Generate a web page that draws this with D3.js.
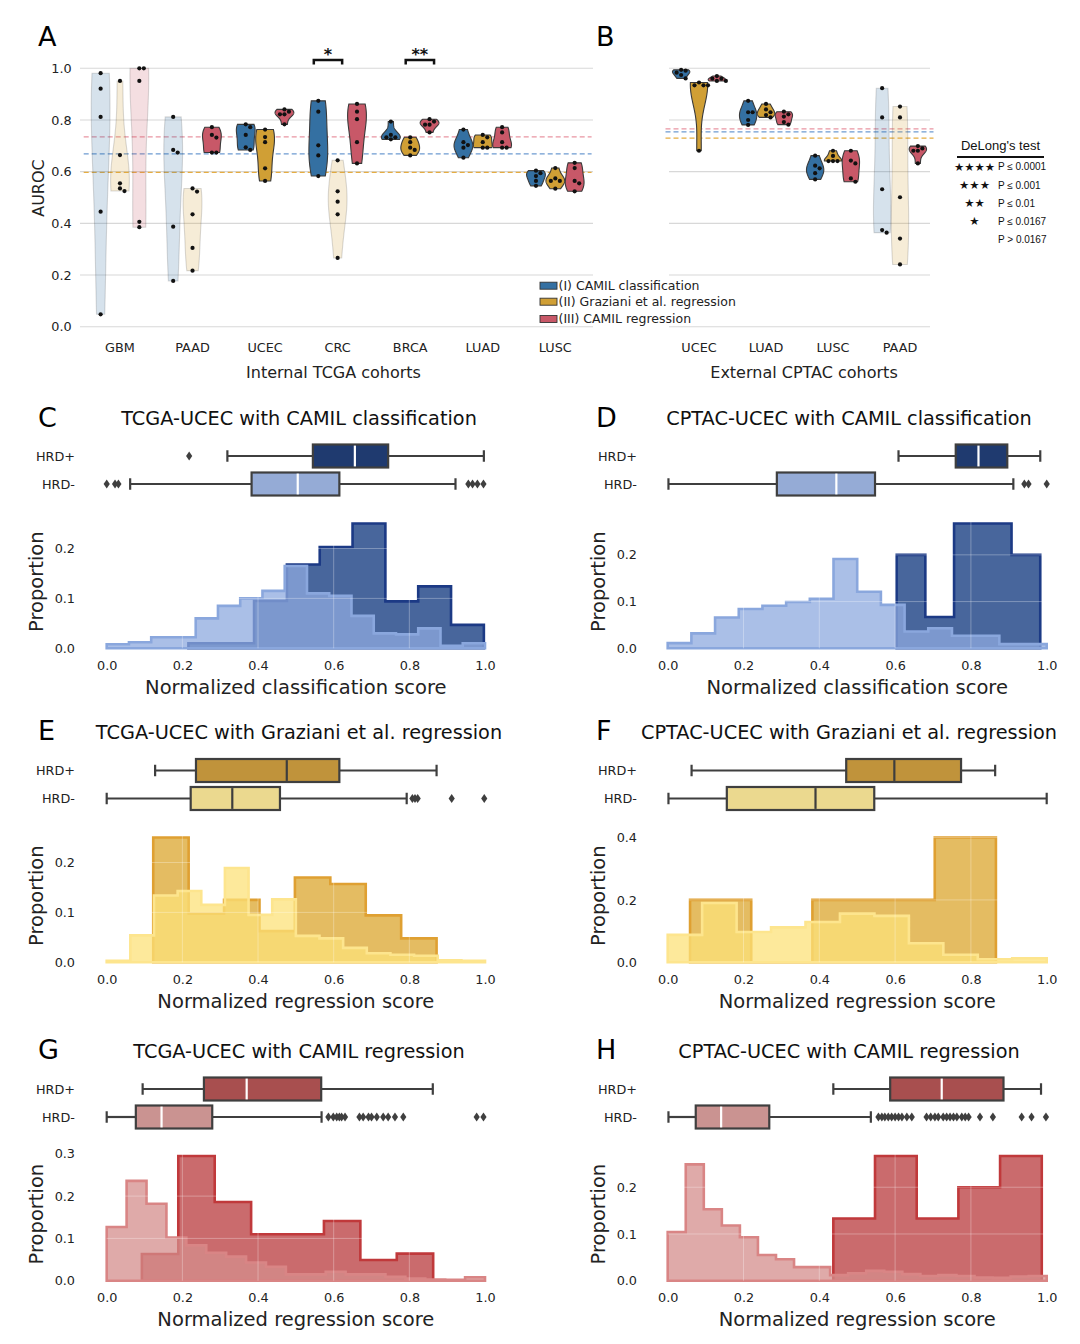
<!DOCTYPE html>
<html><head><meta charset="utf-8">
<script src="https://cdn.jsdelivr.net/npm/d3@7/dist/d3.min.js"></script>
<style>
body{margin:0;background:#fff;}
svg{display:block;}
</style></head>
<body>
<svg id="fig" width="1080" height="1344" xmlns="http://www.w3.org/2000/svg"></svg>
<script>
// ================= DATA: panels A & B (AUROC of 5 folds) =================
const internalCohorts = ["GBM","PAAD","UCEC","CRC","BRCA","LUAD","LUSC"];
const externalCohorts = ["UCEC","LUAD","LUSC","PAAD"];
const methodNames = ["(I) CAMIL classification","(II) Graziani et al. regression","(III) CAMIL regression"];
const methodColors = ["#3470a2","#d09f35","#c85868"];
const meanLineColors = ["#6e9bd1","#e6ad42","#e995a2"];

const internalCamilCls = [
  [0.981,0.921,0.812,0.445,0.048],
  [0.812,0.684,0.674,0.387,0.177],
  [0.783,0.772,0.742,0.694,0.684],
  [0.874,0.832,0.702,0.663,0.583],
  [0.794,0.742,0.733,0.733,0.725],
  [0.763,0.714,0.703,0.693,0.654],
  [0.604,0.594,0.583,0.564,0.545]
];
const internalGraziani = [
  [0.951,0.664,0.555,0.535,0.525],
  [0.535,0.523,0.435,0.305,0.217],
  [0.763,0.734,0.714,0.613,0.564],
  [0.644,0.524,0.484,0.435,0.266],
  [0.733,0.714,0.693,0.684,0.663],
  [0.742,0.733,0.714,0.693,0.693],
  [0.614,0.574,0.564,0.564,0.534]
];
const internalCamilReg = [
  [1.0,1.0,0.951,0.406,0.385],
  [0.772,0.742,0.732,0.674,0.674],
  [0.841,0.832,0.822,0.822,0.783],
  [0.862,0.832,0.803,0.714,0.632],
  [0.803,0.794,0.782,0.782,0.752],
  [0.772,0.752,0.714,0.693,0.693],
  [0.634,0.614,0.564,0.555,0.524]
];
const externalCamilCls = [
  [0.994,0.991,0.983,0.974,0.961],
  [0.874,0.830,0.830,0.800,0.781],
  [0.662,0.623,0.613,0.594,0.570],
  [0.923,0.810,0.532,0.374,0.364]
];
const externalGraziani = [
  [0.945,0.934,0.934,0.934,0.681],
  [0.862,0.841,0.830,0.819,0.810],
  [0.681,0.661,0.641,0.641,0.641],
  [0.852,0.810,0.501,0.341,0.241]
];
const externalCamilReg = [
  [0.970,0.960,0.960,0.951,0.951],
  [0.832,0.822,0.813,0.792,0.782],
  [0.681,0.643,0.632,0.574,0.561],
  [0.699,0.690,0.681,0.681,0.632]
];
// 1 = not significant (drawn faint)
const internalFaint = [[1,1,1],[1,1,0],[0,0,0],[0,1,0],[0,0,0],[0,0,0],[0,0,0]];
const externalFaint = [[0,0,0],[0,0,0],[0,0,0],[1,1,0]];
const sigBrackets = [{cohort:"CRC", from:0, to:1, label:"*"},{cohort:"BRCA", from:1, to:2, label:"**"}];
const aurocTicks = [0,0.2,0.4,0.6,0.8,1.0];
const delongStars = ["★★★★","★★★","★★","★",""];
const delongLabels = ["P ≤ 0.0001","P ≤ 0.001","P ≤ 0.01","P ≤ 0.0167","P > 0.0167"];

// ================= DATA: panels C–H =================
const groupLabels = ["HRD+","HRD-"];
const scoreTicks = [0,0.2,0.4,0.6,0.8,1.0];
// box stats: [lower whisker, Q1, median, Q3, upper whisker]
// C: TCGA-UCEC CAMIL classification
const cPosRange = [0.216,0.997];
const cPosProps = [0.01,0.01,0.095,0.168,0.203,0.25,0.094,0.124,0.047];
const cNegRange = [0,1];
const cNegProps = [0.008,0.012,0.022,0.022,0.06,0.085,0.10,0.115,0.165,0.11,0.105,0.065,0.03,0.028,0.04,0.005,0.01];
const cPosBox = [0.319,0.545,0.656,0.744,0.997];
const cPosOut = [0.218];
const cNegBox = [0.062,0.383,0.505,0.615,0.922];
const cNegOut = [0.0,0.022,0.031,0.956,0.967,0.98,0.996];
// D: CPTAC-UCEC CAMIL classification
const dPosRange = [0.604,0.983];
const dPosProps = [0.2,0.067,0.267,0.267,0.2];
const dNegRange = [0,1];
const dNegProps = [0.011,0.032,0.066,0.084,0.091,0.099,0.106,0.191,0.121,0.093,0.036,0.043,0.027,0.027,0.009,0.009];
const dPosBox = [0.609,0.760,0.820,0.896,0.983];
const dPosOut = [];
const dNegBox = [0.002,0.288,0.445,0.547,0.912];
const dNegOut = [0.941,0.952,1.0];
// E: TCGA-UCEC Graziani regression
const ePosRange = [0.123,0.872];
const ePosProps = [0.25,0.0975,0.125,0.0625,0.17,0.157,0.094,0.048];
const eNegRange = [0,1];
const eNegProps = [0.003,0.054,0.134,0.143,0.115,0.189,0.095,0.126,0.053,0.048,0.029,0.018,0.015,0.013,0.004,0.003];
const ePosBox = [0.128,0.236,0.476,0.615,0.872];
const ePosOut = [];
const eNegBox = [0.0,0.222,0.332,0.458,0.793];
const eNegOut = [0.808,0.815,0.822,0.912,0.998];
// F: CPTAC-UCEC Graziani regression
const fPosRange = [0.059,0.866];
const fPosProps = [0.2,0,0.2,0.2,0.4];
const fNegRange = [0,1];
const fNegProps = [0.088,0.19,0.097,0.112,0.129,0.156,0.149,0.061,0.024,0.01,0.013];
const fPosBox = [0.063,0.471,0.598,0.774,0.864];
const fPosOut = [];
const fNegBox = [0.002,0.156,0.39,0.545,1.0];
const fNegOut = [];
// G: TCGA-UCEC CAMIL regression
const gPosRange = [0.093,0.863];
const gPosProps = [0.063,0.295,0.186,0.11,0.11,0.141,0.049,0.064];
const gNegRange = [0,1];
const gNegProps = [0.127,0.236,0.182,0.102,0.084,0.066,0.057,0.043,0.033,0.015,0.015,0.021,0.015,0.015,0.009,0.005,0.003,0.002,0.008];
const gPosBox = [0.095,0.257,0.370,0.567,0.862];
const gPosOut = [];
const gNegBox = [0.0,0.077,0.145,0.279,0.568];
const gNegOut = [0.586,0.599,0.608,0.615,0.621,0.630,0.668,0.678,0.692,0.700,0.714,0.731,0.744,0.762,0.784,0.978,0.996];
// H: CPTAC-UCEC CAMIL regression
const hPosRange = [0.437,0.987];
const hPosProps = [0.133,0.267,0.133,0.2,0.267];
const hNegRange = [0,1];
const hNegProps = [0.104,0.249,0.153,0.118,0.093,0.055,0.046,0.029,0.029,0.012,0.016,0.021,0.019,0.014,0.010,0.012,0.010,0.007,0.006,0.009,0.010];
const hPosBox = [0.437,0.587,0.723,0.886,0.985];
const hPosOut = [];
const hNegBox = [0.002,0.074,0.141,0.268,0.536];
const hNegOut = [0.556,0.565,0.573,0.582,0.591,0.600,0.609,0.618,0.631,0.644,0.683,0.694,0.705,0.714,0.727,0.736,0.745,0.754,0.763,0.776,0.785,0.794,0.824,0.858,0.934,0.960,0.998];

const blueTheme = {boxFill:["#1f3a6f","#95abd6"], histFill:["#0b337b","#8eaadf"], histEdge:["#1c3a85","#8aa7dd"], median:"#ffffff"};
const goldTheme = {boxFill:["#c0933b","#ebd98f"], histFill:["#dba62e","#fce27a"], histEdge:["#dfa032","#fde58e"], median:"#3d3d3d"};
const redTheme  = {boxFill:["#a84f4f","#ca9391"], histFill:["#b83a3c","#d48e8c"], histEdge:["#c0393b","#d98585"], median:"#ffffff"};

// ================= DRAWING =================
const FONT = '"DejaVu Sans", sans-serif';
const svg = d3.select("#fig");
svg.append("rect").attr("width",1080).attr("height",1344).attr("fill","#fff");

function txt(g, s, x, y, size, opts={}) {
  const t = g.append("text").attr("x",x).attr("y",y).text(s)
    .attr("font-family", opts.family || FONT).attr("font-size", size)
    .attr("fill", opts.fill || "#111").attr("text-anchor", opts.anchor || "start");
  if (opts.rotate) t.attr("transform", `rotate(-90,${x},${y})`);
  if (opts.weight) t.attr("font-weight", opts.weight);
  return t;
}

// ---------- Panels A & B ----------
const yA = d3.scaleLinear().domain([0,1]).range([326.7,68.3]);
const xIntA = d3.scaleBand().domain(internalCohorts).range([83.7,591.6]);
const xExtB = d3.scaleBand().domain(externalCohorts).range([665.5,933.5]);

function drawViolin(g, values, cx, half, color, faint) {
  const n = values.length;
  const sd = d3.deviation(values);
  const bw = sd * Math.pow(n, -1/5);
  const lo = d3.min(values), hi = d3.max(values);
  const grid = d3.range(101).map(i => lo + (hi-lo)*i/100);
  const dens = grid.map(v => d3.sum(values, d => Math.exp(-0.5*((v-d)/bw)**2)));
  const mx = d3.max(dens);
  const area = d3.area()
    .x0((d,i) => cx - half*dens[i]/mx)
    .x1((d,i) => cx + half*dens[i]/mx)
    .y(d => yA(d));
  g.append("path").attr("d", area(grid))
    .attr("fill", color).attr("fill-opacity", faint ? 0.2 : 1)
    .attr("stroke", "#3a3a3a").attr("stroke-opacity", faint ? 0.18 : 1)
    .attr("stroke-width", 1.1);
  // swarm of fold points
  const r = 2.1, d = 2*r + 0.3;
  const placed = [];
  values.slice().sort((a,b)=>b-a).forEach(v => {
    const py = yA(v);
    const cands = [0, d, -d, 2*d, -2*d, 3*d, -3*d];
    let px = cx;
    for (const o of cands) {
      const ok = placed.every(p => Math.hypot(p[0]-(cx+o), p[1]-py) >= 2*r);
      if (ok) { px = cx + o; break; }
    }
    placed.push([px, py]);
  });
  g.selectAll(null).data(placed).join("circle")
    .attr("cx", p=>p[0]).attr("cy", p=>p[1]).attr("r", r).attr("fill", "#111");
}

function violinPanel(cohorts, xBand, series, faint, gridRange) {
  const g = svg.append("g");
  g.selectAll(null).data(aurocTicks).join("line")
    .attr("x1", gridRange[0]).attr("x2", gridRange[1])
    .attr("y1", d=>yA(d)).attr("y2", d=>yA(d))
    .attr("stroke", "#d8d8d8").attr("stroke-width", 1.1);
  const means = series.map(s => d3.mean(s.flat()));
  g.selectAll(null).data(means).join("line")
    .attr("x1", xBand.range()[0]).attr("x2", xBand.range()[1])
    .attr("y1", d=>yA(d)).attr("y2", d=>yA(d))
    .attr("stroke", (d,i)=>meanLineColors[i]).attr("stroke-width", 1.3)
    .attr("stroke-dasharray", "5,3");
  const bw = xBand.bandwidth(), hueW = bw*0.8/3, half = hueW/2*0.97;
  cohorts.forEach((c, ci) => {
    series.forEach((s, mi) => {
      const cx = xBand(c) + bw/2 + (mi-1)*hueW;
      drawViolin(g, s[ci], cx, half, methodColors[mi], faint[ci][mi]);
    });
  });
  // category axis
  const ax = g.append("g").attr("transform", `translate(0,${yA(0)})`)
    .call(d3.axisBottom(xBand).tickSize(0).tickPadding(16.7));
  ax.select(".domain").remove();
  ax.selectAll("text").attr("font-family", FONT).attr("font-size", 12.8).attr("fill", "#222");
  return {g, hueW, bw};
}

const A = violinPanel(internalCohorts, xIntA, [internalCamilCls, internalGraziani, internalCamilReg], internalFaint, [80,593]);
const B = violinPanel(externalCohorts, xExtB, [externalCamilCls, externalGraziani, externalCamilReg], externalFaint, [669,930]);

// y axis of A
const yAx = svg.append("g").attr("transform","translate(80,0)")
  .call(d3.axisLeft(yA).tickValues(aurocTicks).tickSize(0).tickPadding(8.3).tickFormat(d3.format(".1f")));
yAx.select(".domain").remove();
yAx.selectAll("text").attr("font-family", FONT).attr("font-size", 12.8).attr("fill", "#222");
txt(svg, "AUROC", 44, 188, 16, {anchor:"middle", rotate:true, fill:"#222"});
txt(svg, "Internal TCGA cohorts", 333.5, 378, 16, {anchor:"middle", fill:"#222"});
txt(svg, "External CPTAC cohorts", 804, 378, 16, {anchor:"middle", fill:"#222"});

// significance brackets
sigBrackets.forEach(b => {
  const c = xIntA(b.cohort) + xIntA.bandwidth()/2;
  const x1 = c + (b.from-1)*A.hueW - 4.5, x2 = c + (b.to-1)*A.hueW + 4.5;
  svg.append("path").attr("d", d3.line()([[x1,64.5],[x1,60],[x2,60],[x2,64.5]]))
    .attr("fill","none").attr("stroke","#111").attr("stroke-width",2.5);
  txt(svg, b.label, (x1+x2)/2, 60, 16, {anchor:"middle", weight:"bold"});
});

// legend of A
methodNames.forEach((m,i) => {
  const cy = [285.7,301.7,319][i];
  svg.append("rect").attr("x",540).attr("y",cy-3.5).attr("width",17).attr("height",7)
    .attr("fill", methodColors[i]).attr("stroke","#333").attr("stroke-width",0.9);
  txt(svg, m, 558.5, cy+4.3, 12.5, {fill:"#222"});
});

// DeLong legend
txt(svg, "DeLong's test", 1000.5, 149.5, 13, {anchor:"middle", family:'"Liberation Sans", Arial, sans-serif', fill:"#111"});
svg.append("line").attr("x1",957).attr("x2",1044).attr("y1",157).attr("y2",157).attr("stroke","#111").attr("stroke-width",2.2);
[166.7,185,203,221,239].forEach((cy,i) => {
  if (delongStars[i]) txt(svg, delongStars[i], 974.5, cy+4.2, 11.5, {anchor:"middle", fill:"#111"});
  txt(svg, delongLabels[i], 998, cy+3.6, 10, {family:'"Liberation Sans", Arial, sans-serif', fill:"#111"});
});

// panel letters
[["A",38,46],["B",596,46],["C",38,426.5],["D",596,426.5],["E",38,740],["F",596,740],["G",38,1059],["H",596,1059]]
  .forEach(([l,x,y]) => txt(svg, l, x, y, 27, {fill:"#000"}));

// ---------- Panels C–H ----------
function histPanel(p) {
  const g = svg.append("g");
  const x = d3.scaleLinear().domain([0,1]).range(p.xr);
  const ymax = d3.max(p.pos.props.concat(p.neg.props)) * 1.05;
  const y = d3.scaleLinear().domain([0,ymax]).range([p.base, p.base-131]);
  const th = p.theme;
  [p.pos, p.neg].forEach((h,k) => {
    const n = h.props.length;
    const edges = d3.range(n+1).map(i => h.range[0] + (h.range[1]-h.range[0])*i/n);
    const pts = h.props.map((v,i)=>[edges[i], v]).concat([[edges[n], h.props[n-1]]]);
    const area = d3.area().curve(d3.curveStepAfter).x(d=>x(d[0])).y0(y(0)).y1(d=>y(d[1]));
    g.append("path").attr("d", area(pts))
      .attr("fill", th.histFill[k]).attr("fill-opacity", 0.75)
      .attr("stroke", th.histEdge[k]).attr("stroke-width", 2.6).attr("stroke-linejoin","miter");
  });
  // faint white grid over the fills
  g.selectAll(null).data(scoreTicks.slice(1,-1)).join("line")
    .attr("x1", d=>x(d)).attr("x2", d=>x(d)).attr("y1", p.base).attr("y2", p.base-131)
    .attr("stroke","#fff").attr("stroke-opacity",0.3).attr("stroke-width",1);
  g.selectAll(null).data(p.yTicks.slice(1)).join("line")
    .attr("x1", p.xr[0]).attr("x2", p.xr[1]).attr("y1", d=>y(d)).attr("y2", d=>y(d))
    .attr("stroke","#fff").attr("stroke-opacity",0.3).attr("stroke-width",1);
  // axes
  const xa = g.append("g").attr("transform",`translate(0,${p.base})`)
    .call(d3.axisBottom(x).tickValues(scoreTicks).tickSize(0).tickPadding(12.4).tickFormat(d3.format(".1f")));
  xa.select(".domain").remove();
  xa.selectAll("text").attr("font-family", FONT).attr("font-size", 12.8).attr("fill","#222");
  const ya = g.append("g").attr("transform",`translate(${p.xr[0]},0)`)
    .call(d3.axisLeft(y).tickValues(p.yTicks).tickSize(0).tickPadding(p.xr[0]-p.labRight).tickFormat(d3.format(".1f")));
  ya.select(".domain").remove();
  ya.selectAll("text").attr("font-family", FONT).attr("font-size", 12.8).attr("fill","#222");
  txt(g, p.xlabel, (p.xr[0]+p.xr[1])/2, p.base+45.5, 19.5, {anchor:"middle", fill:"#222"});
  txt(g, "Proportion", p.labRight-32, p.base-66.6, 19.5, {anchor:"middle", rotate:true, fill:"#222"});
  txt(g, p.title, p.titleX, p.titleY, 19.3, {anchor:"middle", fill:"#111"});
  // box plots
  [[p.pos.box, p.pos.out], [p.neg.box, p.neg.out]].forEach(([b,out],k) => {
    const cy = p.boxY[k], hh = 11.5, col = "#3f3f3f";
    txt(g, groupLabels[k], p.labRight, cy+4.6, 12.8, {anchor:"end", fill:"#222"});
    g.append("line").attr("x1",x(b[0])).attr("x2",x(b[1])).attr("y1",cy).attr("y2",cy).attr("stroke",col).attr("stroke-width",2.2);
    g.append("line").attr("x1",x(b[3])).attr("x2",x(b[4])).attr("y1",cy).attr("y2",cy).attr("stroke",col).attr("stroke-width",2.2);
    [b[0], b[4]].forEach(v => g.append("line").attr("x1",x(v)).attr("x2",x(v)).attr("y1",cy-hh/2).attr("y2",cy+hh/2).attr("stroke",col).attr("stroke-width",2.2));
    g.append("rect").attr("x",x(b[1])).attr("y",cy-hh).attr("width",x(b[3])-x(b[1])).attr("height",2*hh)
      .attr("fill", th.boxFill[k]).attr("stroke",col).attr("stroke-width",2.2);
    g.append("line").attr("x1",x(b[2])).attr("x2",x(b[2])).attr("y1",cy-hh+1.1).attr("y2",cy+hh-1.1)
      .attr("stroke", th.median).attr("stroke-width",2.2);
    g.selectAll(null).data(out).join("path")
      .attr("d", v => `M${x(v)},${cy-4.6}L${x(v)+3.1},${cy}L${x(v)},${cy+4.6}L${x(v)-3.1},${cy}Z`)
      .attr("fill", col);
  });
}

const LEFT = {xr:[106.7,485], labRight:75, titleX:299};
const RIGHT = {xr:[667.7,1046.7], labRight:637, titleX:849};
const ROW1 = {base:648.3, boxY:[456,484], titleY:425};
const ROW2 = {base:962.3, boxY:[770.5,798.5], titleY:739};
const ROW3 = {base:1280.7, boxY:[1089,1117], titleY:1058};

histPanel({...LEFT, ...ROW1, theme:blueTheme, title:"TCGA-UCEC with CAMIL classification", xlabel:"Normalized classification score", yTicks:[0,0.1,0.2],
  pos:{range:cPosRange, props:cPosProps, box:cPosBox, out:cPosOut}, neg:{range:cNegRange, props:cNegProps, box:cNegBox, out:cNegOut}});
histPanel({...RIGHT, ...ROW1, theme:blueTheme, title:"CPTAC-UCEC with CAMIL classification", xlabel:"Normalized classification score", yTicks:[0,0.1,0.2],
  pos:{range:dPosRange, props:dPosProps, box:dPosBox, out:dPosOut}, neg:{range:dNegRange, props:dNegProps, box:dNegBox, out:dNegOut}});
histPanel({...LEFT, ...ROW2, theme:goldTheme, title:"TCGA-UCEC with Graziani et al. regression", xlabel:"Normalized regression score", yTicks:[0,0.1,0.2],
  pos:{range:ePosRange, props:ePosProps, box:ePosBox, out:ePosOut}, neg:{range:eNegRange, props:eNegProps, box:eNegBox, out:eNegOut}});
histPanel({...RIGHT, ...ROW2, theme:goldTheme, title:"CPTAC-UCEC with Graziani et al. regression", xlabel:"Normalized regression score", yTicks:[0,0.2,0.4],
  pos:{range:fPosRange, props:fPosProps, box:fPosBox, out:fPosOut}, neg:{range:fNegRange, props:fNegProps, box:fNegBox, out:fNegOut}});
histPanel({...LEFT, ...ROW3, theme:redTheme, title:"TCGA-UCEC with CAMIL regression", xlabel:"Normalized regression score", yTicks:[0,0.1,0.2,0.3],
  pos:{range:gPosRange, props:gPosProps, box:gPosBox, out:gPosOut}, neg:{range:gNegRange, props:gNegProps, box:gNegBox, out:gNegOut}});
histPanel({...RIGHT, ...ROW3, theme:redTheme, title:"CPTAC-UCEC with CAMIL regression", xlabel:"Normalized regression score", yTicks:[0,0.1,0.2],
  pos:{range:hPosRange, props:hPosProps, box:hPosBox, out:hPosOut}, neg:{range:hNegRange, props:hNegProps, box:hNegBox, out:hNegOut}});
</script>
</body></html>
